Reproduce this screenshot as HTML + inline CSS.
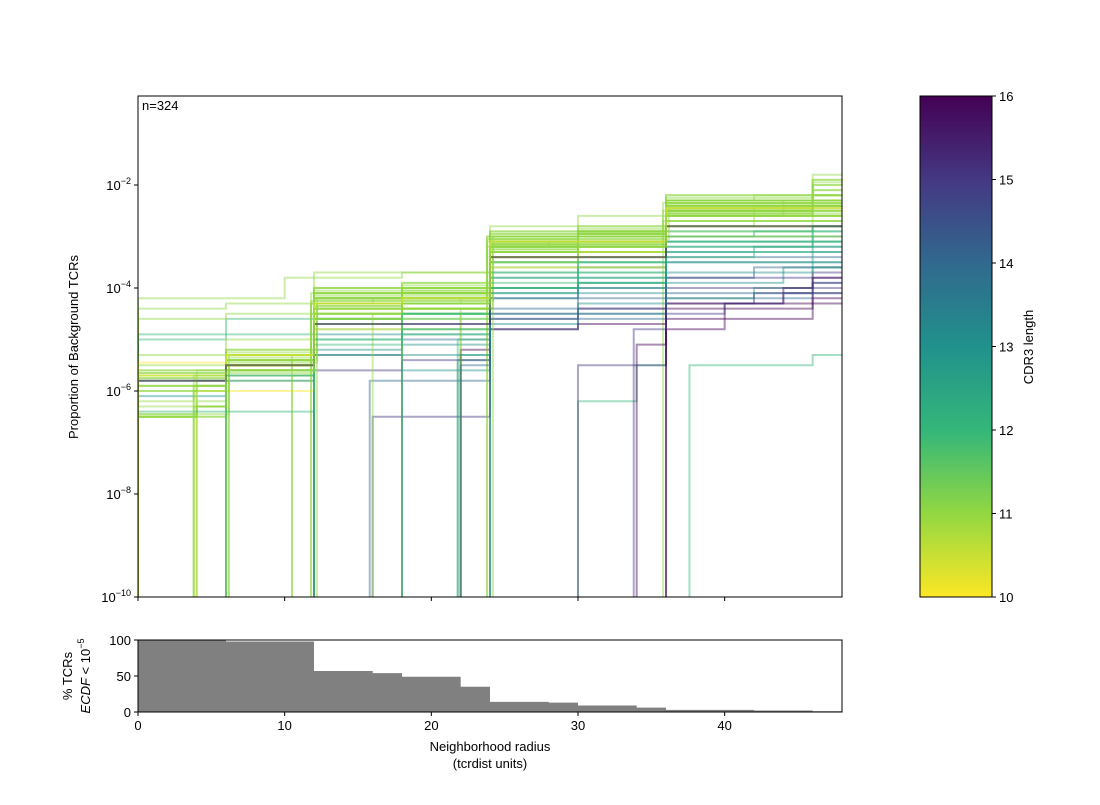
<!DOCTYPE html>
<html><head><meta charset="utf-8"><style>
body{margin:0;background:#fff;font-family:"Liberation Sans",sans-serif}
svg text{font-family:"Liberation Sans",sans-serif;font-size:13px;fill:#000}
</style></head><body>
<svg id="chart" width="1100" height="800" xmlns="http://www.w3.org/2000/svg">
<defs>
<linearGradient id="vir" x1="0" y1="1" x2="0" y2="0">
<stop offset="0" stop-color="#fde725"/><stop offset="0.17" stop-color="#90d743"/><stop offset="0.33" stop-color="#35b779"/><stop offset="0.5" stop-color="#21918c"/><stop offset="0.67" stop-color="#31688e"/><stop offset="0.83" stop-color="#443983"/><stop offset="1" stop-color="#440154"/>
</linearGradient>
<clipPath id="mclip"><rect x="138" y="96" width="704" height="501"/></clipPath>
</defs>
<g id="main"></g>
<g id="hist"></g>
<g id="cbar"></g>
</svg>
<script>
const cdr3Lengths=[11,11,11,11,11,11,11,11,11,11,11,11,11,11,11,11,11,11,11,11,12,12,12,12,12,12,13,13,13,13,14,14,14,15,15,16,16,16,10,10,11,11,11,11,12,13,16,15,11,11,
11,11,11,11,11,11,11,11,11,11,11,11,11,11,11,11,11,11,11,11,11,11,11,11,11,11,12,12,12,12,12,13,13,14,15,16,10,11,11,11];
const stepSeries=[
[[0,-5.7],[6,-5.3],[12,-4.1],[18,-4.0],[24,-3.0],[30,-2.9],[36,-2.3],[46,-2.1]],
[[0,-5.9],[6,-5.4],[12,-4.3],[18,-4.1],[24,-3.1],[30,-3.0],[36,-2.4],[44,-2.3]],
[[0,-6.5],[4,-6.3],[6,-5.5],[12,-4.4],[18,-4.2],[24,-3.2],[30,-3.1],[36,-2.5],[46,-2.4]],
[[0,-4.4],[6,-4.3],[12,-3.8],[18,-3.7],[24,-3.2],[30,-2.8],[36,-2.6],[46,-2.0]],
[[0,-4.2],[10,-3.8],[12,-3.7],[24,-2.8],[30,-2.6],[36,-2.3],[46,-1.9]],
[[3.8,-6.0],[6.2,-5.5],[12,-4.2],[18,-4.1],[24,-3.1],[30,-3.0],[36,-2.4]],
[[4,-5.8],[6,-5.6],[11.8,-4.3],[18,-4.2],[24,-3.2],[28,-3.1],[36,-2.5],[42,-2.4]],
[[6.2,-5.6],[10.5,-5.3],[12,-4.2],[18,-4.1],[24,-3.1],[30,-3.0],[36,-2.4]],
[[6,-5.4],[12.2,-4.3],[16,-4.2],[23.8,-3.0],[30,-2.9],[36,-2.4],[46,-2.2]],
[[10.5,-5.7],[12,-4.5],[18,-4.3],[24,-3.3],[30,-3.2],[36,-2.6],[42,-2.5]],
[[11.8,-4.5],[18,-4.4],[24,-3.3],[30,-3.2],[36,-2.6],[44,-2.5]],
[[12,-4.6],[18,-4.4],[24.2,-3.4],[30,-3.2],[35.8,-2.7]],
[[0,-6.3],[6,-5.5],[12,-4.7],[18,-4.5],[24,-3.4],[30,-3.3],[36,-2.7],[46,-2.6]],
[[0,-5.8],[6,-5.5],[12,-4.4],[18,-4.3],[22,-4.2],[24,-3.2],[30,-3.1],[36,-2.5]],
[[0,-5.7],[6,-5.4],[12,-4.2],[24,-3.0],[36,-2.3],[46,-1.8]],
[[23.8,-3.1],[30,-3.0],[36,-2.4],[46,-2.3]],
[[24,-3.3],[30,-3.2],[36,-2.6]],
[[22,-4.5],[24,-3.4],[30,-3.3],[36,-2.8],[42,-2.6]],
[[35.8,-2.5],[46,-2.3]],
[[18,-4.5],[24,-3.5],[30,-3.3],[36,-2.9],[46,-2.7]],
[[0,-4.9],[6,-4.6],[12,-4.4],[18,-4.2],[24,-3.5],[30,-3.4],[36,-3.0],[46,-2.8]],
[[6,-5.6],[12,-4.6],[18,-4.5],[24,-3.6],[30,-3.5],[36,-2.9]],
[[12,-4.8],[18,-4.6],[24,-3.7],[30,-3.6],[36,-3.0],[42,-2.9]],
[[22,-5.3],[24,-4.1],[30,-3.9],[36,-3.3],[42,-3.2]],
[[30,-6.2],[34,-5.5],[36,-4.2],[42,-4.0],[46,-3.6]],
[[37.6,-5.5],[46,-5.3]],
[[0,-6.1],[6,-5.7],[12,-4.9],[18,-4.7],[24,-3.8],[30,-3.6],[36,-3.1]],
[[12,-5.2],[18,-4.9],[24,-4.0],[30,-3.8],[36,-3.3],[46,-3.0]],
[[21.8,-5.4],[24,-4.2],[30,-4.1],[36,-3.5]],
[[18,-5.6],[24,-4.7],[30,-4.5],[36,-3.9],[44,-3.6]],
[[12,-5.3],[18,-5.0],[24,-4.2],[30,-4.0],[36,-3.4]],
[[15.8,-5.8],[24,-4.8],[30,-4.6],[36,-4.2],[46,-3.9]],
[[24,-4.4],[30,-4.2],[36,-3.8],[42,-3.6]],
[[12,-5.6],[18,-5.4],[24,-4.6],[30,-4.4],[36,-3.8]],
[[30,-5.5],[36,-4.3],[42,-4.1],[46,-3.7]],
[[36,-4.4],[40,-4.3],[44,-4.0],[46,-3.8]],
[[34,-5.1],[36,-4.6],[40,-4.4],[46,-4.2]],
[[22,-5.2],[24,-4.8],[30,-4.7],[36,-4.3],[46,-4.1]],
[[0,-5.7],[6,-5.5],[12,-4.4],[24,-3.3],[36,-2.8]],
[[4,-6.0],[12,-4.8],[24,-3.6],[36,-3.0]],
[[0,-6.5],[4,-6.3],[6,-5.8],[12,-4.5],[18,-4.4],[24,-3.3],[36,-2.6]],
[[0,-5.6],[12,-4.1],[18,-3.9],[24,-2.9],[36,-2.2],[46,-1.9]],
[[6,-5.3],[12,-4.0],[24,-2.9],[30,-2.8],[36,-2.2]],
[[0,-6.5],[6,-5.6],[12,-4.6],[18,-4.4],[24,-3.3],[30,-3.1],[36,-2.5]],
[[0,-5.0],[6,-4.9],[12,-4.6],[18,-4.5],[24,-3.5],[36,-2.8]],
[[0,-5.8],[12,-5.3],[18,-5.1],[24,-4.0],[30,-3.9],[36,-3.2]],
[[36,-4.8],[40,-4.6],[46,-4.3]],
[[16,-6.5],[24,-4.5],[30,-4.4],[36,-4.0]],
[[0,-6.0],[4,-5.9],[6,-5.5],[12,-4.3],[24,-3.2],[30,-3.1],[36,-2.5],[46,-2.3]],
[[4,-5.6],[12,-4.2],[18,-4.1],[24,-3.0],[36,-2.3],[46,-2.0]],
[[0,-5.65],[6,-5.35],[11.8,-4.25],[18,-4.15],[24,-3.05],[30,-2.95],[36,-2.35],[46,-2.2]],
[[0,-5.75],[6,-5.45],[12.2,-4.35],[18,-4.25],[24.2,-3.15],[30,-3.05],[36.2,-2.45]],
[[0,-6.45],[6.2,-5.3],[12,-4.15],[18,-4.05],[23.8,-3.0],[30,-2.9],[35.8,-2.35]],
[[0,-6.5],[4,-6.2],[6,-5.25],[12,-4.05],[24,-2.95],[36,-2.3],[42,-2.2]],
[[0,-5.6],[6,-5.2],[12,-4.1],[18,-4.0],[24,-3.0],[30,-2.85],[36,-2.25],[46,-1.95]],
[[0,-5.9],[6,-5.3],[12,-4.2],[18,-4.1],[24,-3.1],[30,-2.95],[36,-2.4]],
[[0,-6.2],[3.8,-5.9],[6,-5.4],[12,-4.3],[18,-4.2],[24,-3.2],[30,-3.0],[36,-2.45],[46,-2.3]],
[[0,-5.5],[6,-5.2],[12,-4.0],[24,-2.95],[36,-2.3]],
[[0,-6.5],[6,-5.5],[12,-4.5],[18,-4.3],[24,-3.25],[30,-3.15],[36,-2.55]],
[[3.8,-5.7],[6,-5.4],[12,-4.3],[18,-4.2],[24,-3.15],[36,-2.5],[46,-2.35]],
[[6,-5.3],[11.8,-4.1],[18,-4.0],[24,-3.0],[30,-2.9],[36,-2.3]],
[[6.2,-5.5],[12,-4.35],[18,-4.25],[24,-3.2],[30,-3.1],[36,-2.5],[44,-2.4]],
[[10.5,-5.4],[12,-4.2],[18,-4.1],[24,-3.05],[30,-2.95],[36,-2.35]],
[[11.8,-4.3],[18,-4.2],[24,-3.1],[30,-3.0],[36,-2.45],[46,-2.3]],
[[12.2,-4.2],[18,-4.1],[23.8,-3.05],[30,-2.95],[36,-2.4]],
[[0,-6.0],[6,-5.6],[12,-4.5],[18,-4.4],[24,-3.3],[30,-3.2],[36,-2.6],[46,-2.45]],
[[0,-5.75],[6,-5.5],[12,-4.25],[18,-4.1],[24,-3.15],[30,-3.0],[36,-2.4]],
[[0,-6.45],[4,-6.3],[6,-5.7],[12,-4.6],[24,-3.4],[36,-2.7]],
[[0,-5.3],[6,-5.0],[12,-4.0],[18,-3.95],[24,-3.0],[30,-2.9],[36,-2.3],[46,-2.1]],
[[0,-4.6],[6,-4.5],[12,-4.1],[18,-3.9],[24,-3.1],[30,-3.0],[36,-2.4]],
[[22,-4.4],[24,-3.15],[30,-3.05],[36,-2.45],[46,-2.3]],
[[23.8,-3.2],[30,-3.1],[36,-2.5],[42,-2.4]],
[[24.2,-3.0],[30,-2.9],[36,-2.35],[46,-2.2]],
[[18,-4.3],[24,-3.1],[30,-3.0],[36,-2.4]],
[[16,-4.5],[18,-4.3],[24,-3.25],[30,-3.15],[36,-2.55],[46,-2.4]],
[[0,-5.9],[6,-5.5],[12,-4.6],[18,-4.4],[24,-3.5],[30,-3.4],[36,-2.8]],
[[6,-5.7],[12,-4.7],[18,-4.5],[24,-3.7],[30,-3.5],[36,-3.0],[46,-2.8]],
[[0,-6.4],[12,-5.0],[18,-4.8],[24,-3.8],[30,-3.7],[36,-3.1]],
[[21.8,-5.0],[24,-4.0],[30,-3.8],[36,-3.2],[46,-3.0]],
[[12,-5.1],[18,-4.9],[24,-3.9],[30,-3.7],[36,-3.1]],
[[12,-5.0],[18,-4.8],[24,-4.0],[30,-3.9],[36,-3.4],[42,-3.3]],
[[24,-4.1],[30,-4.0],[36,-3.5],[46,-3.3]],
[[18,-5.3],[24,-4.5],[30,-4.3],[36,-3.7],[46,-3.5]],
[[22,-5.5],[24,-4.6],[30,-4.5],[36,-4.1]],
[[33.8,-4.8],[36,-4.5],[40,-4.3],[44,-4.1],[46,-3.9]],
[[0,-5.8],[6,-5.5],[12,-4.7],[24,-3.4],[36,-2.8]],
[[0,-5.45],[6,-5.3],[12,-4.3],[18,-4.2],[24,-3.1],[36,-2.45]],
[[3.8,-6.3],[6,-5.6],[12,-4.4],[24,-3.2],[36,-2.55],[46,-2.4]],
[[0,-5.65],[12,-4.4],[18,-4.3],[24,-3.3],[30,-3.2],[36,-2.6]]
];
const histEdges=[0,6,12,16,18,22,24,28,30,34,36,42,46,48];
const histValues=[100,98,57,54,49,35,14,13,9,6,3,2,1];
const xTicks=[0,10,20,30,40];
const yExps=[-2,-4,-6,-8,-10];
const histYTicks=[0,50,100];
const cbarTicks=[10,11,12,13,14,15,16];

const NS="http://www.w3.org/2000/svg";
function mk(tag,attrs,parent){const e=document.createElementNS(NS,tag);for(const k in attrs)e.setAttribute(k,attrs[k]);parent.appendChild(e);return e;}
const X0=138,X1=842,XMAX=48;
const xs=v=>X0+v/XMAX*(X1-X0);
const ys=l=>597-(l+10)*51.5;
const hy=v=>712-v/100*72;
const vir=["#fde725","#90d743","#35b779","#21918c","#31688e","#443983","#440154"];
const cmap=c=>vir[Math.max(0,Math.min(6,Math.round(c-10)))];

const main=document.getElementById('main');
const lg=mk('g',{'clip-path':'url(#mclip)'},main);
stepSeries.forEach((s,i)=>{
  let d=`M${xs(s[0][0])},${ys(-10)}`;
  s.forEach((p,j)=>{d+=` L${xs(p[0])},${ys(p[1])}`;const nx=j+1<s.length?s[j+1][0]:XMAX;d+=` L${xs(nx)},${ys(p[1])}`;});
  const p=mk('path',{d:d,fill:'none',stroke:cmap(cdr3Lengths[i]),'stroke-width':2,'stroke-opacity':0.45},lg);
  
  
});
mk('rect',{x:138,y:96,width:704,height:501,fill:'none',stroke:'#000','stroke-width':1,},main);
xTicks.forEach(t=>mk('line',{x1:xs(t),x2:xs(t),y1:597,y2:601,stroke:'#000'},main));
yExps.forEach(e=>{
  const y=ys(e);mk('line',{x1:134,x2:138,y1:y,y2:y,stroke:'#000'},main);
  const t=mk('text',{x:131,y:y+5,'text-anchor':'end'},main);
  
  t.innerHTML=`10<tspan dy="-6" font-size="9">−${-e}</tspan>`;
});
mk('text',{x:142,y:110,},main).textContent='n=324';
mk('text',{x:78,y:347,'text-anchor':'middle',transform:'rotate(-90 78 347)',},main).textContent='Proportion of Background TCRs';

const hist=document.getElementById('hist');
let hd=`M${xs(0)},${hy(0)}`;
histValues.forEach((v,i)=>{hd+=` L${xs(histEdges[i])},${hy(v)} L${xs(histEdges[i+1])},${hy(v)}`;});
hd+=` L${xs(XMAX)},${hy(0)} Z`;
mk('path',{d:hd,fill:'#808080',},hist);
mk('rect',{x:138,y:640,width:704,height:72,fill:'none',stroke:'#000',},hist);
xTicks.forEach(t=>{mk('line',{x1:xs(t),x2:xs(t),y1:712,y2:716,stroke:'#000'},hist);
  const e=mk('text',{x:xs(t),y:730,'text-anchor':'middle'},hist);e.textContent=t;});
histYTicks.forEach(t=>{mk('line',{x1:134,x2:138,y1:hy(t),y2:hy(t),stroke:'#000'},hist);
  const e=mk('text',{x:131,y:hy(t)+5,'text-anchor':'end'},hist);e.textContent=t;});
mk('text',{x:490,y:751,'text-anchor':'middle',},hist).textContent='Neighborhood radius';
mk('text',{x:490,y:768,'text-anchor':'middle',},hist).textContent='(tcrdist units)';
mk('text',{x:72,y:676,'text-anchor':'middle',transform:'rotate(-90 72 676)',},hist).textContent='% TCRs';
const ht=mk('text',{x:90,y:676,'text-anchor':'middle',transform:'rotate(-90 90 676)',},hist);
ht.innerHTML='<tspan font-style="italic">ECDF</tspan> &lt; 10<tspan dy="-6" font-size="9">−5</tspan>';

const cb=document.getElementById('cbar');
mk('rect',{x:920,y:96,width:72,height:501,fill:'url(#vir)',stroke:'#000',},cb);
cbarTicks.forEach(t=>{const y=597-(t-10)/6*501;mk('line',{x1:992,x2:996,y1:y,y2:y,stroke:'#000'},cb);
  const e=mk('text',{x:999,y:y+5},cb);e.textContent=t;});
mk('text',{x:1033,y:347,'text-anchor':'middle',transform:'rotate(-90 1033 347)',},cb).textContent='CDR3 length';
</script>
</body></html>
